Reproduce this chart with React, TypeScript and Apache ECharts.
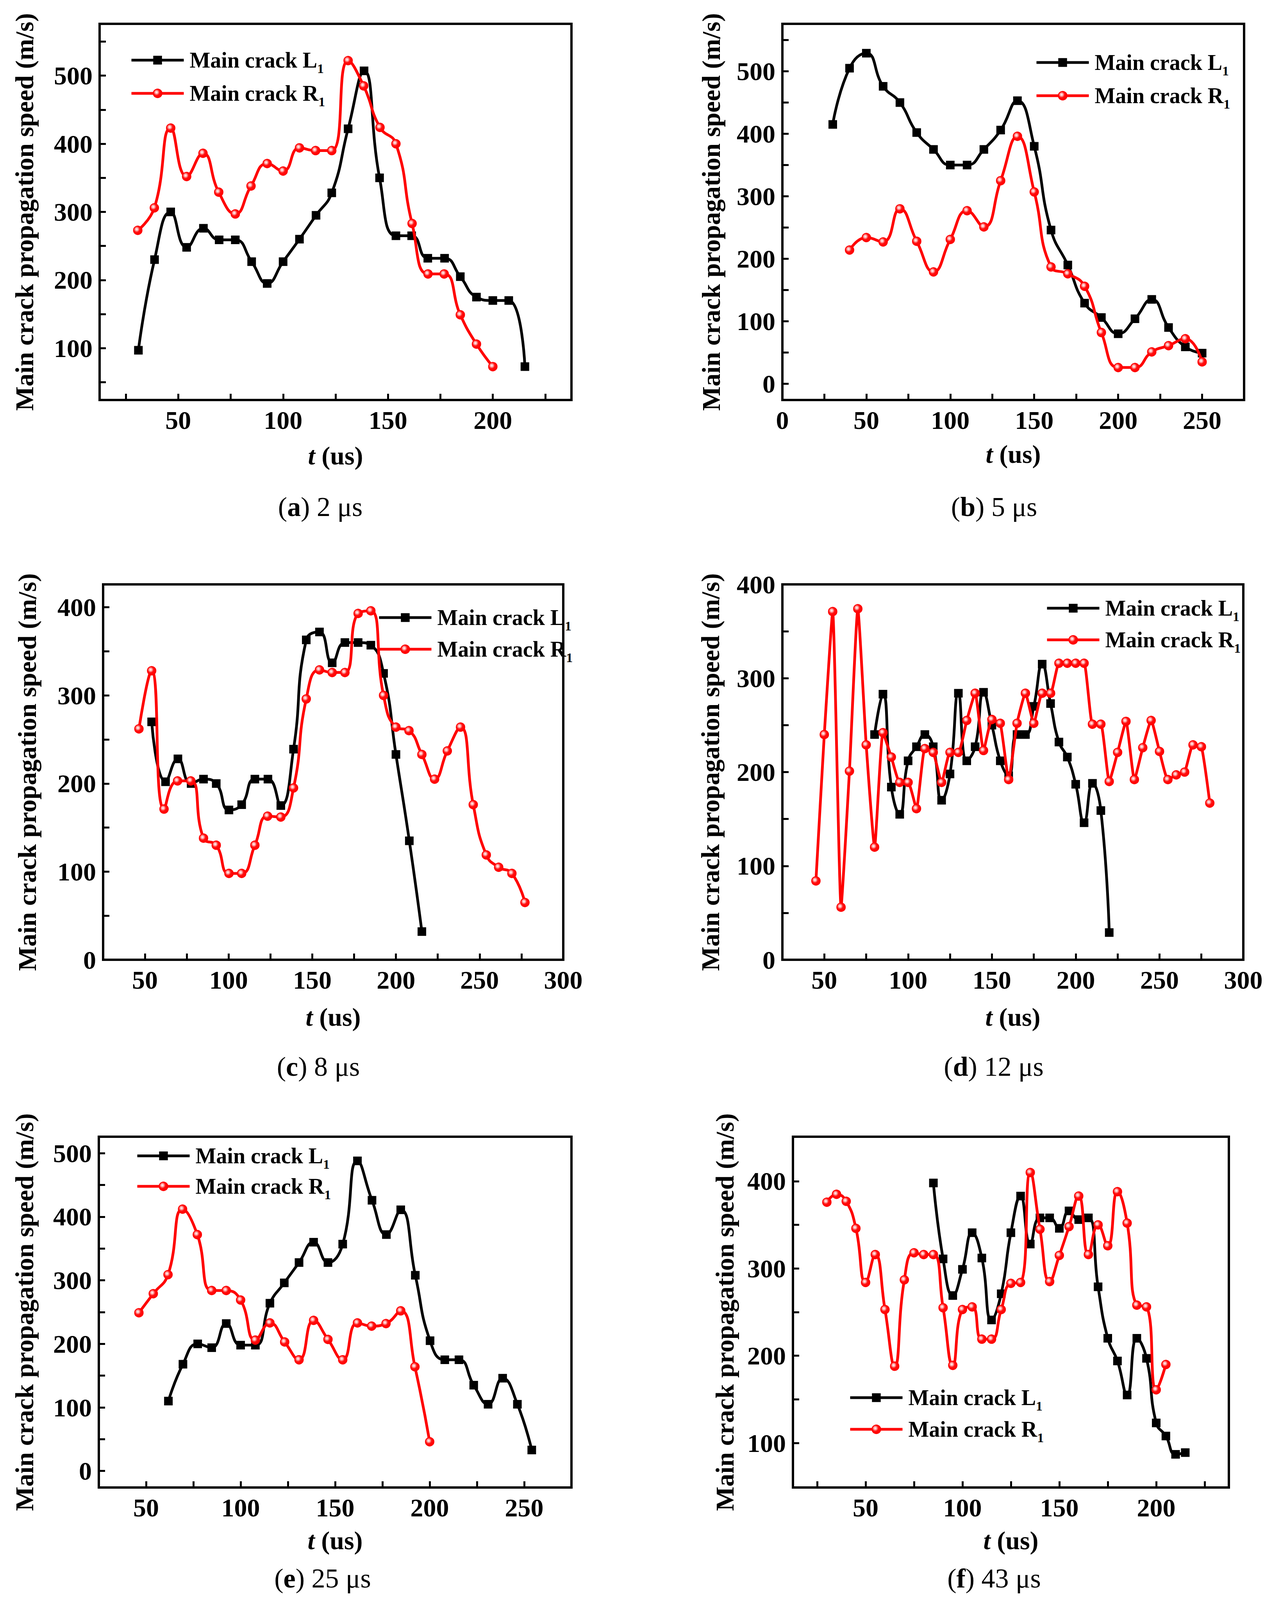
import React, { useEffect, useRef } from "react";
import * as echarts from "echarts";

// ---------- DATA ----------
// (a) 2 μs
const aLx = [31, 38.7, 46.4, 54, 62, 69.5, 77.2, 85, 92.4, 100, 107.8, 115.7, 123.2, 131, 138.6, 146, 153.8, 161.3, 169, 177, 184.5, 192.2, 200, 207.6, 215.3];
const aLy = [97, 230, 300, 248, 276, 259, 259, 227, 195, 227, 260, 295, 328, 422, 507, 350, 265, 265, 232, 232, 205, 175, 170, 170, 73];
const aRx = [30.7, 38.6, 46.4, 54, 61.8, 69.3, 77.2, 84.7, 92.4, 100, 107.8, 115.5, 123.2, 131, 138.4, 146.2, 153.8, 161.5, 169.1, 176.8, 184.5, 192.2, 200];
const aRy = [273, 306, 423, 352, 386, 329, 297, 338, 371, 360, 394, 390, 390, 522, 485, 424, 400, 283, 209, 209, 149, 106, 73];

// (b) 5 μs
const bLx = [30, 40, 50, 60, 70, 80, 90, 100, 110, 120, 130, 140, 150, 160, 170, 180, 190, 200, 210, 220, 230, 240, 250];
const bLy = [415, 505, 529, 476, 450, 402, 375, 350, 350, 375, 406, 453, 380, 246, 190, 129, 106, 80, 104, 135, 90, 59, 49];
const bRx = [40, 50, 60, 70, 80, 90, 100, 110, 120, 130, 140, 150, 160, 170, 180, 190, 200, 210, 220, 230, 240, 250];
const bRy = [214, 234, 227, 280, 228, 179, 231, 277, 251, 325, 396, 307, 187, 176, 156, 82, 26, 26, 51, 61, 72, 35];

// (c) 8 μs
const cLx = [54, 62.3, 69.7, 77.6, 85, 92.6, 100.2, 107.8, 115.7, 123.5, 131.2, 138.8, 146.4, 154.3, 161.9, 169.5, 177.4, 185, 192.6, 200, 208, 215.5];
const cLy = [270, 202, 228, 200, 205, 200, 170, 176, 205, 205, 175, 239, 363, 372, 337, 360, 360, 357, 325, 233, 135, 32];
const cRx = [46.4, 54, 61.4, 69.5, 77.4, 85, 92.6, 100.2, 107.8, 115.7, 123.3, 131.2, 138.8, 146.4, 154.3, 161.9, 169.5, 177.4, 185, 192.6, 200, 207.8, 215.5, 223.1, 230.7, 238.6, 246.2, 254, 261.4, 269.3, 277.1];
const cRy = [262, 328, 171, 203, 203, 138, 130, 98, 98, 130, 163, 162, 195, 296, 329, 326, 326, 393, 396, 300, 264, 260, 233, 205, 237, 264, 176, 119, 105, 98, 65];

// (d) 12 μs
const dLx = [80, 85, 90, 95, 100, 105, 110, 115, 120, 125, 130, 135, 140, 145, 150, 155, 160, 165, 170, 175, 180, 185, 190, 195, 200, 205, 210, 215, 220];
const dLy = [240, 283, 184, 155, 212, 227, 240, 227, 170, 198, 284, 212, 227, 285, 250, 212, 196, 240, 240, 270, 315, 273, 232, 216, 187, 146, 188, 159, 29];
const dRx = [45, 50, 55, 60, 65, 70, 75, 80, 85, 90, 95, 100, 105, 110, 115, 120, 125, 130, 135, 140, 145, 150, 155, 160, 165, 170, 175, 180, 185, 190, 195, 200, 205, 210, 215, 220, 225, 230, 235, 240, 245, 250, 255, 260, 265, 270, 275, 280];
const dRy = [84, 240, 371, 56, 201, 374, 229, 120, 242, 216, 189, 189, 161, 225, 221, 189, 221, 221, 255, 284, 223, 256, 252, 192, 252, 284, 252, 284, 284, 316, 316, 316, 316, 251, 251, 190, 221, 254, 192, 226, 255, 222, 192, 197, 200, 229, 227, 167];

// (e) 25 μs
const eLx = [61.8, 69.5, 77.3, 84.7, 92.4, 100, 107.8, 115.5, 123.1, 130.9, 138.6, 146.2, 154, 161.8, 169.5, 177.1, 184.7, 192.4, 200.2, 208, 215.5, 223.3, 230.9, 238.6, 246.4, 254];
const eLy = [110, 168, 200, 194, 232, 198, 198, 264, 296, 328, 360, 328, 357, 488, 426, 372, 411, 308, 205, 175, 175, 135, 105, 146, 105, 33];
const eRx = [46.2, 53.8, 61.6, 69.3, 77.1, 84.7, 92.4, 100, 107.8, 115.5, 123.3, 130.9, 138.6, 146.2, 154, 161.8, 169.3, 176.9, 184.7, 192.2, 200];
const eRy = [249, 279, 309, 412, 372, 284, 284, 269, 206, 233, 203, 175, 237, 207, 175, 233, 228, 232, 252, 164, 46];

// (f) 43 μs
const fLx = [85, 90, 95, 100, 105, 110, 115, 120, 125, 130, 135, 140, 145, 150, 155, 160, 165, 170, 175, 180, 185, 190, 195, 200, 205, 210, 215];
const fLy = [398, 311, 269, 299, 341, 312, 241, 271, 341, 383, 328, 358, 358, 346, 366, 356, 358, 279, 220, 194, 155, 220, 197, 123, 108, 87, 89];
const fRx = [30, 35, 40, 45, 50, 55, 60, 65, 70, 75, 80, 85, 90, 95, 100, 105, 110, 115, 120, 125, 130, 135, 140, 145, 150, 155, 160, 165, 170, 175, 180, 185, 190, 195, 200, 205];
const fRy = [376, 385, 377, 346, 284, 316, 253, 188, 287, 318, 316, 316, 255, 189, 253, 256, 219, 219, 253, 283, 284, 410, 345, 285, 315, 348, 383, 316, 350, 326, 388, 352, 258, 256, 161, 190];

// Tick labels
const xLabels200 = [50, 100, 150, 200];
const xLabels250from0 = [0, 50, 100, 150, 200, 250];
const xLabels300 = [50, 100, 150, 200, 250, 300];
const xLabels250 = [50, 100, 150, 200, 250];
const yLabels100to500 = [100, 200, 300, 400, 500];
const yLabels0to500 = [0, 100, 200, 300, 400, 500];
const yLabels0to400 = [0, 100, 200, 300, 400];
const yLabels100to400 = [100, 200, 300, 400];

const captions = ["a|2 μs", "b|5 μs", "c|8 μs", "d|12 μs", "e|25 μs", "f|43 μs"];
const seriesNames = ["Main crack L1", "Main crack R1"];
const yTitle = "Main crack propagation speed (m/s)";

// ---------- LAYOUT ----------
const FONT = '"Liberation Serif", "Times New Roman", serif';

type Panel = {
  grid: [number, number, number, number]; // left, top, right, bottom (px)
  xMin: number; xMax: number; xLab: number[]; xTicks: number[];
  yMin: number; yMax: number; yLab: number[]; yTicks: number[];
  yGap: number; xGap: number;
  L: [number[], number[]]; R: [number[], number[]];
  legend: [number, number, number];
  cap: [number, number];
  redSmooth: number;
};

const panels: Panel[] = [
  {
    grid: [255, 61, 1463, 1024], xMin: 12.5, xMax: 237.5, xLab: xLabels200,
    xTicks: [25, 50, 75, 100, 125, 150, 175, 200, 225],
    yMin: 24, yMax: 576, yLab: yLabels100to500, yTicks: [50, 100, 150, 200, 250, 300, 350, 400, 450, 500, 550],
    yGap: 160, xGap: 109, L: [aLx, aLy], R: [aRx, aRy], legend: [328, 121, 19], cap: [820, 1297], redSmooth: 0.5,
  },
  {
    grid: [2003, 61, 3185, 1024], xMin: 0, xMax: 275, xLab: xLabels250from0,
    xTicks: [25, 50, 75, 100, 125, 150, 175, 200, 225, 250],
    yMin: -26, yMax: 576, yLab: yLabels0to500, yTicks: [0, 50, 100, 150, 200, 250, 300, 350, 400, 450, 500, 550],
    yGap: 150, xGap: 105, L: [bLx, bLy], R: [bRx, bRy], legend: [2645, 127, 19], cap: [2545, 1297], redSmooth: 0.5,
  },
  {
    grid: [264, 1496, 1442, 2457], xMin: 25, xMax: 300, xLab: xLabels300,
    xTicks: [50, 75, 100, 125, 150, 175, 200, 225, 250, 275],
    yMin: 0, yMax: 426, yLab: yLabels0to400, yTicks: [50, 100, 150, 200, 250, 300, 350, 400],
    yGap: 162, xGap: 113, L: [cLx, cLy], R: [cRx, cRy], legend: [962, 1548, 15], cap: [815, 2730], redSmooth: 0.5,
  },
  {
    grid: [2003, 1496, 3183, 2457], xMin: 25, xMax: 300, xLab: xLabels300,
    xTicks: [50, 75, 100, 125, 150, 175, 200, 225, 250, 275],
    yMin: 0, yMax: 400, yLab: yLabels0to400, yTicks: [50, 100, 150, 200, 250, 300, 350],
    yGap: 152, xGap: 113, L: [dLx, dLy], R: [dRx, dRy], legend: [2672, 1524, 15], cap: [2544, 2730], redSmooth: 0.15,
  },
  {
    grid: [253, 2910, 1463, 3808], xMin: 25, xMax: 275, xLab: xLabels250,
    xTicks: [50, 75, 100, 125, 150, 175, 200, 225, 250],
    yMin: -26, yMax: 526, yLab: yLabels0to500, yTicks: [0, 50, 100, 150, 200, 250, 300, 350, 400, 450, 500],
    yGap: 158, xGap: 102, L: [eLx, eLy], R: [eRx, eRy], legend: [343, 2926, 12], cap: [826, 4040], redSmooth: 0.5,
  },
  {
    grid: [2030, 2910, 3146, 3808], xMin: 12.5, xMax: 237.5, xLab: xLabels200,
    xTicks: [25, 50, 75, 100, 125, 150, 175, 200, 225],
    yMin: 49, yMax: 451, yLab: yLabels100to400, yTicks: [100, 150, 200, 250, 300, 350, 400],
    yGap: 142, xGap: 102, L: [fLx, fLy], R: [fRx, fRy], legend: [2168, 3545, 15], cap: [2545, 4040], redSmooth: 0.5,
  },
];

const zip = (xs: number[], ys: number[]) => xs.map((x, i) => [x, ys[i]]);

const redBall = {
  type: "radial",
  x: 0.38,
  y: 0.38,
  r: 0.62,
  colorStops: [
    { offset: 0, color: "#ffffff" },
    { offset: 0.25, color: "#ffb0b0" },
    { offset: 0.55, color: "#ff1010" },
    { offset: 1, color: "#ff0000" },
  ],
};

function buildOption() {
  const grid: any[] = [];
  const xAxis: any[] = [];
  const yAxis: any[] = [];
  const series: any[] = [];
  const legend: any[] = [];
  const graphic: any[] = [];

  panels.forEach((p, i) => {
    const [l, t, r, b] = p.grid;
    grid.push({
      left: l, top: t, width: r - l, height: b - t,
      show: true, borderColor: "#000", borderWidth: 6, backgroundColor: "transparent",
      containLabel: false,
    });
    xAxis.push({
      type: "value", gridIndex: i, min: p.xMin, max: p.xMax,
      axisLine: { show: true, onZero: false, lineStyle: { color: "#000", width: 6 } },
      axisTick: { show: true, inside: true, length: 16, lineStyle: { color: "#000", width: 5 }, customValues: p.xTicks },
      axisLabel: {
        customValues: p.xLab, fontSize: 66, fontWeight: "bold", fontFamily: FONT, color: "#000", margin: 18,
      },
      splitLine: { show: false },
      name: "{i|t}{n| (us)}", nameLocation: "middle", nameGap: p.xGap,
      nameTextStyle: {
        color: "#000",
        rich: {
          i: { fontStyle: "italic", fontWeight: "bold", fontSize: 66, fontFamily: FONT, color: "#000" },
          n: { fontWeight: "bold", fontSize: 66, fontFamily: FONT, color: "#000" },
        },
      },
    });
    yAxis.push({
      type: "value", gridIndex: i, min: p.yMin, max: p.yMax,
      axisLine: { show: true, onZero: false, lineStyle: { color: "#000", width: 6 } },
      axisTick: { show: true, inside: true, length: 16, lineStyle: { color: "#000", width: 5 }, customValues: p.yTicks },
      axisLabel: {
        customValues: p.yLab, fontSize: 66, fontWeight: "bold", fontFamily: FONT, color: "#000", margin: 18,
      },
      splitLine: { show: false },
      name: yTitle, nameLocation: "middle", nameGap: p.yGap,
      nameTextStyle: { fontSize: 66, fontWeight: "bold", fontFamily: FONT, color: "#000" },
    });
    series.push({
      name: seriesNames[0], type: "line", xAxisIndex: i, yAxisIndex: i,
      data: zip(p.L[0], p.L[1]), smooth: 0.5, symbol: "rect", symbolSize: 22,
      lineStyle: { color: "#000", width: 7 }, itemStyle: { color: "#000" }, z: 3,
    });
    series.push({
      name: seriesNames[1], type: "line", xAxisIndex: i, yAxisIndex: i,
      data: zip(p.R[0], p.R[1]), smooth: p.redSmooth, symbol: "circle", symbolSize: 22,
      lineStyle: { color: "#ff0000", width: 7 },
      itemStyle: { color: redBall, borderColor: "#ff0000", borderWidth: 2 }, z: 4,
    });
    legend.push({
      left: p.legend[0], top: p.legend[1], orient: "vertical", itemGap: p.legend[2],
      itemWidth: 134, itemHeight: 28, data: seriesNames, selectedMode: false,
      lineStyle: { width: 7 },
      formatter: (name: string) => `{n|${name.slice(0, -1)}}{s|${name.slice(-1)}}`,
      textStyle: {
        padding: [0, 0, 0, 10],
        rich: {
          n: { fontSize: 56, fontWeight: "bold", fontFamily: FONT, color: "#000", lineHeight: 76 },
          s: { fontSize: 34, fontWeight: "bold", fontFamily: FONT, color: "#000", lineHeight: 34, verticalAlign: "bottom" },
        },
      },
    });
    const [letter, rest] = captions[i].split("|");
    graphic.push({
      type: "text", x: p.cap[0], y: p.cap[1],
      style: {
        text: `({b|${letter}}) ${rest}`,
        align: "center", verticalAlign: "middle",
        fontSize: 70, fontFamily: FONT, fill: "#000",
        rich: { b: { fontSize: 70, fontWeight: "bold", fontFamily: FONT, fill: "#000" } },
      },
    });
  });

  return {
    animation: false,
    backgroundColor: "#fff",
    textStyle: { fontFamily: FONT },
    grid, xAxis, yAxis, series, legend, graphic,
  };
}

export default function App() {
  const ref = useRef<HTMLDivElement>(null);
  useEffect(() => {
    document.body.style.margin = "0";
    if (!ref.current) return;
    const chart = echarts.init(ref.current, undefined, { renderer: "svg" });
    chart.setOption(buildOption() as any);
    return () => chart.dispose();
  }, []);
  return <div ref={ref} style={{ width: 3259, height: 4240, background: "#fff" }} />;
}
